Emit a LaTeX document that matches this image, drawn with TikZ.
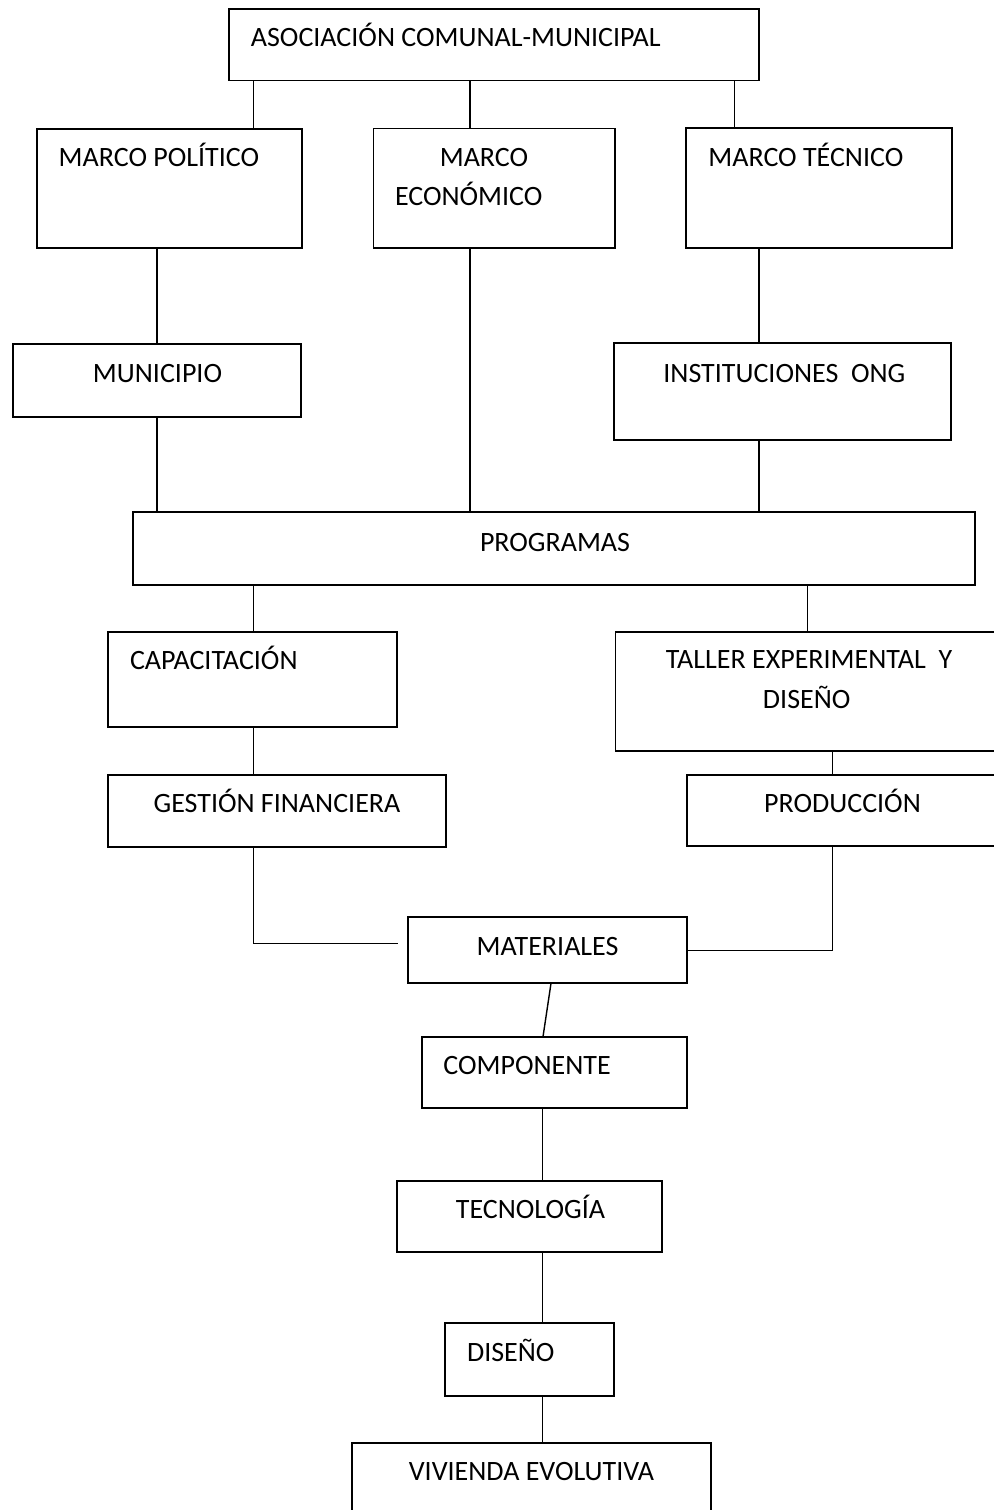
\documentclass[tikz,border=0pt]{standalone}
\usepackage{fontspec}
\setmainfont{Carlito}
\newcommand\mkbox[5]{\node[bx, minimum width={(#3-#2)*0.5pt}, minimum height={(#5-#4)*0.5pt}] (#1) at ({(#2+#3)/2},{(#4+#5)/2}) {};}
\begin{document}
\begin{tikzpicture}[x=0.5pt,y=-0.5pt,
  bx/.style={draw, line width=0.9pt, rectangle, inner sep=0pt, outer sep=0pt},
  ln/.style={line width=0.7pt},
  tx/.style={inner sep=0pt, font=\fontsize{14}{17}\selectfont},
  txl/.style={tx, anchor=base west},
  txc/.style={tx, anchor=base}]
\useasboundingbox (0,0) rectangle (993,1510);
% boxes
\mkbox{asoc}{229.3}{758.7}{9}{80.5}
\mkbox{pol}{36.7}{301.7}{129}{248}
\mkbox{econ}{373.5}{614.8}{128.5}{248}
\mkbox{tec}{686.3}{952}{128.3}{247.7}
\mkbox{muni}{12.7}{300.8}{344}{417}
\mkbox{inst}{614}{951}{343}{440}
\mkbox{prog}{133}{975}{512}{585}
\mkbox{cap}{108}{397}{631.7}{727.3}
\mkbox{tal}{615.4}{1005}{631.7}{750.7}
\mkbox{gest}{108}{445.7}{775}{846.7}
\mkbox{prod}{686.6}{1005}{775}{846}
\mkbox{mat}{407.7}{686.6}{917.3}{983.3}
\mkbox{comp}{421.7}{686.7}{1036.7}{1108.3}
\mkbox{tecn}{396.7}{662.3}{1180.7}{1251.7}
\mkbox{dis}{445}{614.3}{1323}{1395.7}
\mkbox{viv}{351.7}{711}{1442.7}{1530}
% texts
\node[txl] (tasoc) at (250.5,46.7) {ASOCIACIÓN COMUNAL-MUNICIPAL};
\node[txl] (tpol) at (58.3,166.7) {MARCO POLÍTICO};
\node[txc] (tecon1) at (484,166.7) {MARCO};
\node[txc] (tecon2) at (468.7,205.5) {ECONÓMICO};
\node[txl] (ttec) at (708,166) {MARCO TÉCNICO};
\node[txc] (tmuni) at (157.5,382) {MUNICIPIO};
\node[txl] (tinst) at (663,382) {INSTITUCIONES\ \ ONG};
\node[txc] (tprog) at (555,551) {PROGRAMAS};
\node[txl] (tcap) at (129.6,669) {CAPACITACIÓN};
\node[txc] (ttal1) at (809,668) {TALLER EXPERIMENTAL\ \ Y};
\node[txc] (ttal2) at (806.7,708) {DISEÑO};
\node[txc] (tgest) at (277,812) {GESTIÓN FINANCIERA};
\node[txc] (tprod) at (842.5,812) {PRODUCCIÓN};
\node[txc] (tmat) at (547.6,955.5) {MATERIALES};
\node[txl] (tcomp) at (443,1074) {COMPONENTE};
\node[txc] (ttecn) at (530.5,1218) {TECNOLOGÍA};
\node[txl] (tdis) at (466.7,1361) {DISEÑO};
\node[txc] (tviv) at (531.5,1480) {VIVIENDA EVOLUTIVA};
% connector x positions
\coordinate (c1) at (253.4,0);
\coordinate (c2) at (470,0);
\coordinate (c3) at (734.7,0);
\coordinate (c4) at (157,0);
\coordinate (c5) at (759,0);
\coordinate (c7) at (807.5,0);
\coordinate (c8) at (832.5,0);
\coordinate (c9) at (542.5,0);
\coordinate (s1) at (551,0);
\coordinate (s2) at (543,0);
\coordinate (gm) at (397.7,943.3);
% connectors
\draw[ln] (asoc.south -| c1) -- (pol.north -| c1);
\draw[ln] (asoc.south -| c2) -- (econ.north -| c2);
\draw[ln] (asoc.south -| c3) -- (tec.north -| c3);
\draw[ln] (pol.south -| c4) -- (muni.north -| c4);
\draw[ln] (muni.south -| c4) -- (prog.north -| c4);
\draw[ln] (econ.south -| c2) -- (prog.north -| c2);
\draw[ln] (tec.south -| c5) -- (inst.north -| c5);
\draw[ln] (inst.south -| c5) -- (prog.north -| c5);
\draw[ln] (prog.south -| c1) -- (cap.north -| c1);
\draw[ln] (prog.south -| c7) -- (tal.north -| c7);
\draw[ln] (cap.south -| c1) -- (gest.north -| c1);
\draw[ln] (tal.south -| c8) -- (prod.north -| c8);
\draw[ln] (gest.south -| c1) |- (gm);
\draw[ln] (prod.south -| c8) |- (mat.east);
\draw[ln] (mat.south -| s1) -- (comp.north -| s2);
\draw[ln] (comp.south -| c9) -- (tecn.north -| c9);
\draw[ln] (tecn.south -| c9) -- (dis.north -| c9);
\draw[ln] (dis.south -| c9) -- (viv.north -| c9);
\end{tikzpicture}
\end{document}
